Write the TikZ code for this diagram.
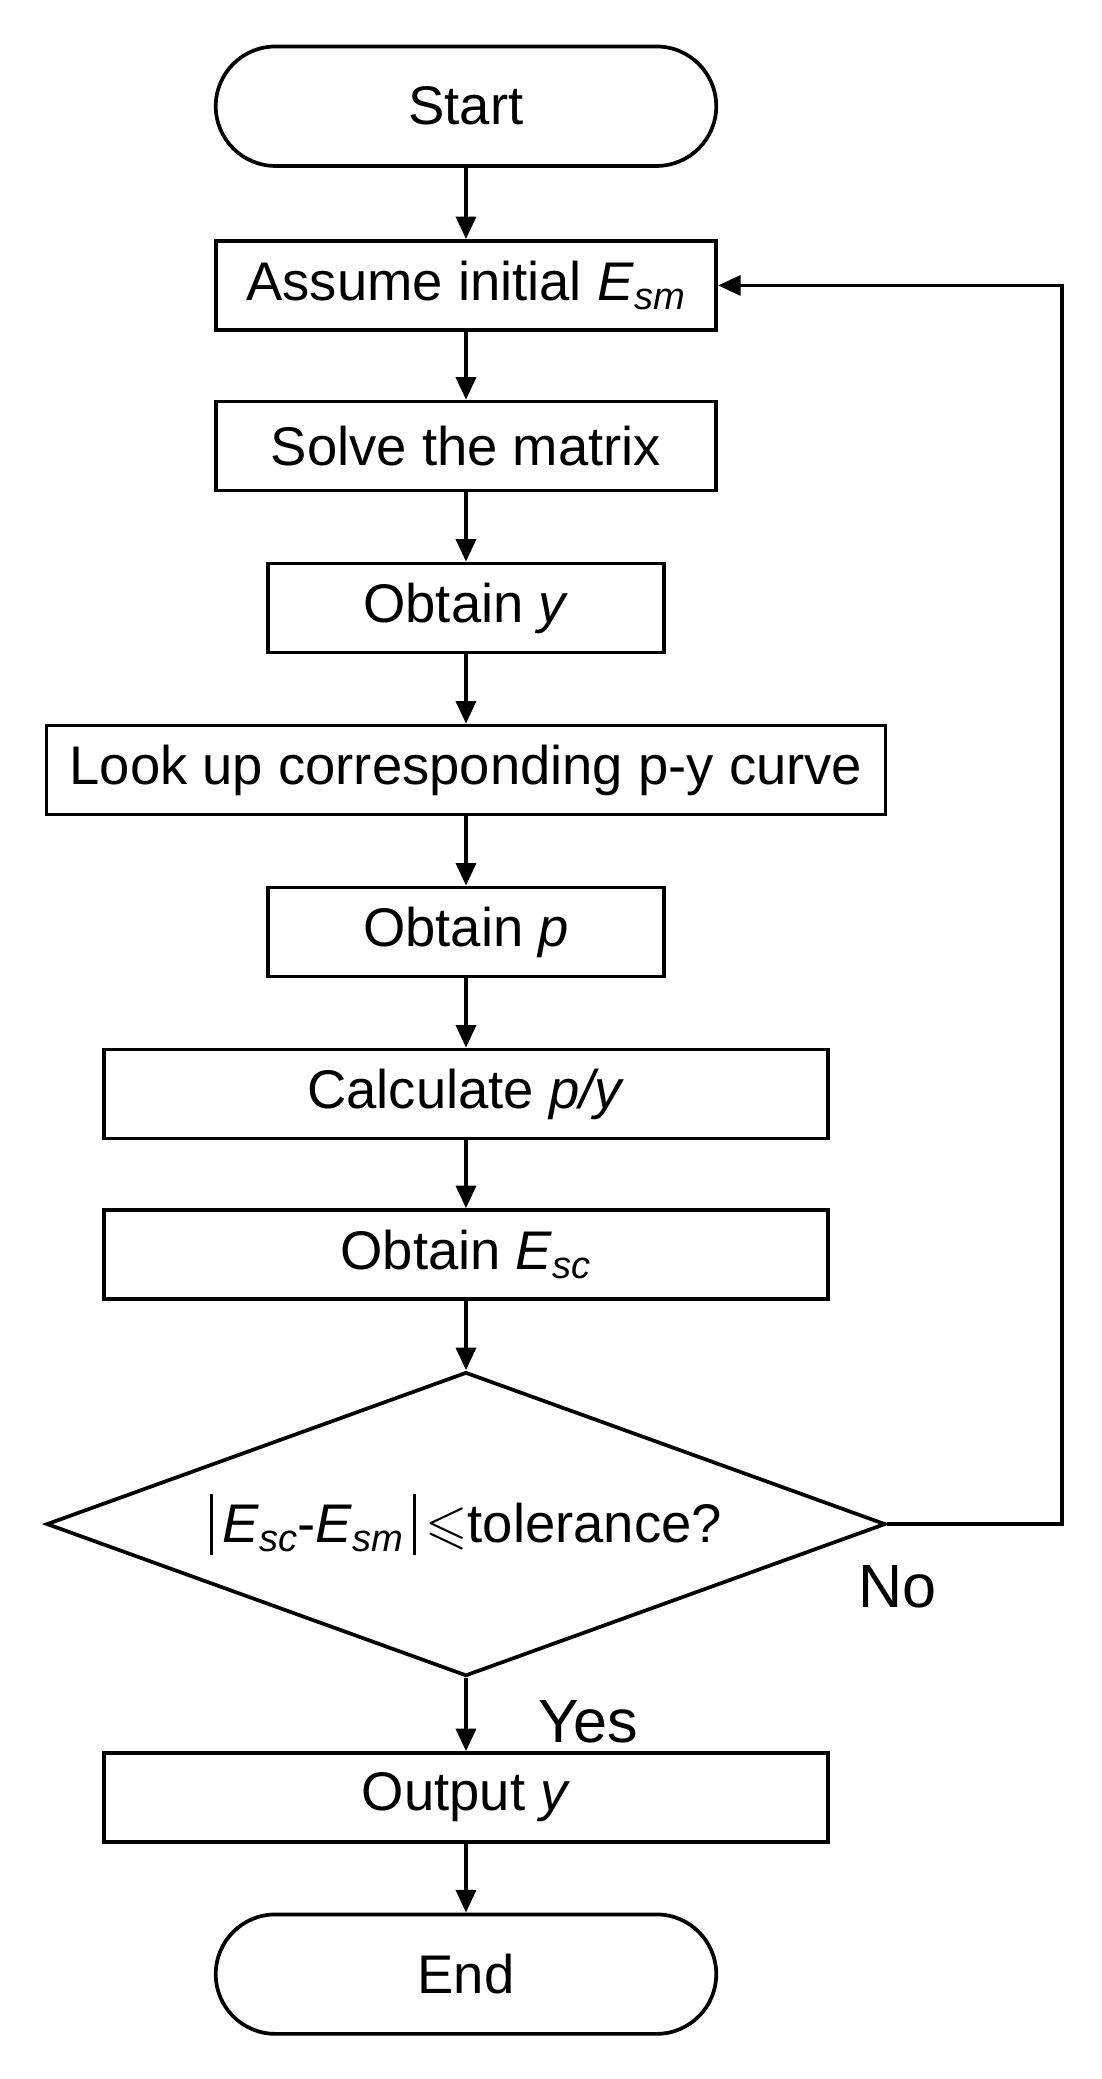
\documentclass[tikz,border=0pt]{standalone}
\usepackage{amssymb}
\usepackage{fontspec}
\setmainfont{Liberation Sans}
\usetikzlibrary{shapes.geometric,arrows.meta}
\newcommand{\vbarx}{\raisebox{-0.22em}{\rule{2.4pt}{1.12em}}}
\begin{document}
\begin{tikzpicture}[x=1pt,y=-1pt,line width=2.8pt,
  every node/.style={font=\fontsize{41}{48}\selectfont},
  box/.style={draw,rectangle,minimum height=67pt,inner sep=0pt},
  term/.style={draw,rounded corners=45pt,minimum width=377pt,minimum height=90pt},
  arr/.style={-{Triangle[length=17pt,width=15pt]}}]
\useasboundingbox (0,0) rectangle (830,1566);
\node[term] (start) at (351,80) {Start};
\node[box,minimum width=377pt] (a) at (351,215) {Assume initial \textit{E}\textsubscript{\textit{sm}}};
\node[box,minimum width=377pt] (b) at (351,336) {Solve the matrix};
\node[box,minimum width=298pt] (c) at (351,458) {Obtain \textit{y}};
\node[box,minimum width=632pt] (d) at (351,580) {Look up corresponding p-y curve};
\node[box,minimum width=298pt] (e) at (351,702) {Obtain \textit{p}};
\node[box,minimum width=545pt] (f) at (351,824) {Calculate \textit{p/y}};
\node[box,minimum width=545pt] (g) at (351,945) {Obtain \textit{E}\textsubscript{\textit{sc}}};
\node[draw,diamond,aspect=2.76,minimum width=632pt,minimum height=229pt,inner sep=0pt] (h) at (351,1148) {\vbarx\,\textit{E}\textsubscript{\textit{sc}}-\textit{E}\textsubscript{\textit{sm}}\,\vbarx\,$\leqslant$tolerance?};
\node[box,minimum width=545pt] (i) at (351,1354) {Output \textit{y}};
\node[term] (end) at (351,1487) {End};
\draw[arr] (start) -- (a);
\draw[arr] (a) -- (b);
\draw[arr] (b) -- (c);
\draw[arr] (c) -- (d);
\draw[arr] (d) -- (e);
\draw[arr] (e) -- (f);
\draw[arr] (f) -- (g);
\draw[arr] (g) -- (h);
\draw[arr] (h) -- (i);
\draw[arr] (i) -- (end);
\coordinate (r1) at (800,1148);
\coordinate (r2) at (800,215);
\draw[arr] (h.east) -- (r1) -- (r2) -- (a.east);
\node (no) at (676,1195) {\fontsize{46}{52}\selectfont No};
\node (yes) at (443,1297) {\fontsize{46}{52}\selectfont Yes};
\end{tikzpicture}
\end{document}
